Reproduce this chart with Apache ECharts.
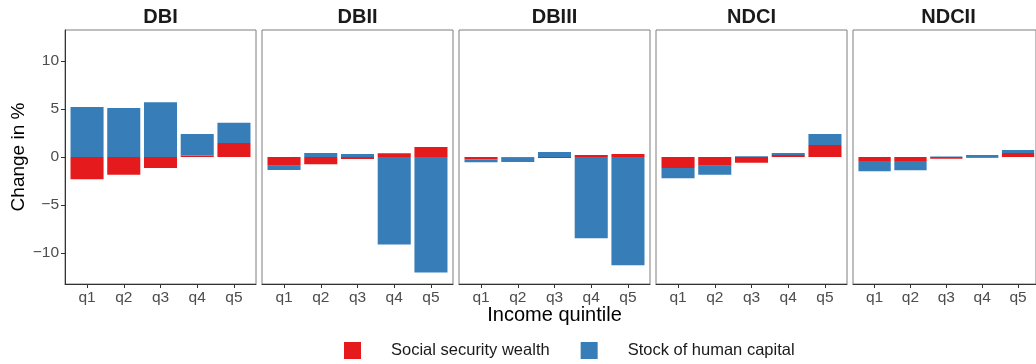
<!DOCTYPE html>
<html>
<head>
<meta charset="utf-8">
<title>Change in % by income quintile</title>
<script src="https://cdn.jsdelivr.net/npm/echarts@6/dist/echarts.min.js"></script>
<style>
  html, body { margin: 0; padding: 0; background: #ffffff; }
  #chart { width: 1036px; height: 364px; }
</style>
</head>
<body>
<div id="chart"></div>
<script>
// Facets (pension schemes) and the income quintiles on each x axis
const schemes = ['DBI', 'DBII', 'DBIII', 'NDCI', 'NDCII'];
const quintiles = ['q1', 'q2', 'q3', 'q4', 'q5'];
const yTicks = [-10, -5, 0, 5, 10];

// Change in % of social security wealth, per scheme, q1..q5
const socialSecurityWealth = {
  DBI:   [-2.3, -1.85, -1.15, 0.15, 1.45],
  DBII:  [-0.9, -0.75, -0.2, 0.4, 1.05],
  DBIII: [-0.25, -0.07, -0.1, 0.2, 0.3],
  NDCI:  [-1.15, -0.9, -0.6, 0.2, 1.25],
  NDCII: [-0.42, -0.42, -0.17, -0.08, 0.42]
};

// Change in % of the stock of human capital, per scheme, q1..q5
const humanCapital = {
  DBI:   [5.2, 5.1, 5.7, 2.25, 2.1],
  DBII:  [-0.45, 0.42, 0.3, -9.1, -12.0],
  DBIII: [-0.3, -0.45, 0.52, -8.45, -11.25],
  NDCI:  [-1.05, -0.95, 0.08, 0.22, 1.15],
  NDCII: [-1.05, -0.95, 0.06, 0.2, 0.32]
};

const seriesNames = ['Social security wealth', 'Stock of human capital'];
const seriesColors = ['#E41A1C', '#377EB8'];

// Panel layout
const FONT = '"Liberation Sans", Arial, Helvetica, sans-serif';
const PANEL_LEFT = 65, PANEL_STEP = 197, PANEL_W = 191;
const PANEL_TOP = 30, PANEL_H = 254;
const PAD = 0.6;                                   // discrete-scale padding, in category units
const UNIT = PANEL_W / (quintiles.length - 1 + 2 * PAD);
const INSET = UNIT * (PAD - 0.5);                  // gap between panel edge and first band
const Y_MIN = -13.2, Y_MAX = 13.2;

const grids = [], xAxes = [], yAxes = [], series = [], graphics = [];
const n = schemes.length;

// Outer grids: panel border, x axis line, and the y axis of the first panel
schemes.forEach((scheme, i) => {
  const left = PANEL_LEFT + i * PANEL_STEP;
  grids.push({
    left: left, top: PANEL_TOP, width: PANEL_W, height: PANEL_H,
    show: true, borderColor: '#7f7f7f', borderWidth: 1,
    backgroundColor: 'transparent'
  });
  xAxes.push({
    type: 'value', gridIndex: i, min: 0, max: 1,
    axisLine: { show: true, onZero: false, lineStyle: { color: '#333333', width: 1 } },
    axisTick: { show: false }, axisLabel: { show: false }, splitLine: { show: false }
  });
  const first = i === 0;
  yAxes.push({
    type: 'value', gridIndex: i, min: Y_MIN, max: Y_MAX,
    axisLine: { show: first, lineStyle: { color: '#333333', width: 1 } },
    axisTick: { show: first, customValues: yTicks, length: 4, lineStyle: { color: '#333333' } },
    axisLabel: {
      show: first, customValues: yTicks, margin: 6,
      color: '#4D4D4D', fontSize: 15.5, fontFamily: FONT,
      formatter: v => String(v).replace('-', '\u2212')
    },
    splitLine: { show: false },
    name: first ? 'Change in %' : '',
    nameLocation: 'middle', nameGap: 37, nameRotate: 90,
    nameTextStyle: { color: '#000000', fontSize: 19, fontFamily: FONT }
  });
  // facet strip title
  graphics.push({
    type: 'text', x: left + PANEL_W / 2, y: 17,
    style: {
      text: scheme, fill: '#1A1A1A', font: 'bold 20px ' + FONT,
      align: 'center', verticalAlign: 'middle'
    }
  });
});

// Inner grids: the category bands holding the stacked bars
schemes.forEach((scheme, i) => {
  const g = n + i;
  const left = PANEL_LEFT + i * PANEL_STEP + INSET;
  grids.push({
    left: left, top: PANEL_TOP, width: PANEL_W - 2 * INSET, height: PANEL_H,
    show: false
  });
  xAxes.push({
    type: 'category', gridIndex: g, data: quintiles, boundaryGap: true,
    axisLine: { show: false, onZero: false },
    axisTick: { show: true, alignWithLabel: true, length: 4, lineStyle: { color: '#333333' } },
    axisLabel: { show: true, margin: 6, color: '#4D4D4D', fontSize: 15.5, fontFamily: FONT },
    splitLine: { show: false }
  });
  yAxes.push({
    type: 'value', gridIndex: g, min: Y_MIN, max: Y_MAX,
    axisLine: { show: false }, axisTick: { show: false },
    axisLabel: { show: false }, splitLine: { show: false }
  });
  [socialSecurityWealth[scheme], humanCapital[scheme]].forEach((vals, k) => {
    series.push({
      type: 'bar', name: seriesNames[k], xAxisIndex: g, yAxisIndex: g,
      stack: 'scheme' + i, stackStrategy: 'samesign',
      barWidth: '90%', itemStyle: { color: seriesColors[k] },
      data: vals
    });
  });
});

// shared x axis title
graphics.push({
  type: 'text',
  x: PANEL_LEFT + (PANEL_STEP * (n - 1) + PANEL_W) / 2, y: 315,
  style: {
    text: 'Income quintile', fill: '#000000', font: '20px ' + FONT,
    align: 'center', verticalAlign: 'middle'
  }
});

const chart = echarts.init(document.getElementById('chart'), null, { renderer: 'canvas' });
chart.setOption({
  animation: false,
  backgroundColor: '#ffffff',
  grid: grids,
  xAxis: xAxes,
  yAxis: yAxes,
  series: series,
  graphic: graphics,
  legend: {
    data: seriesNames, left: 339, top: 337, orient: 'horizontal',
    icon: 'rect', itemWidth: 17, itemHeight: 17, itemGap: 31,
    selectedMode: false,
    textStyle: { color: '#1A1A1A', fontSize: 16.5, fontFamily: FONT, padding: [0, 0, 0, 25] }
  }
});
</script>
</body>
</html>
